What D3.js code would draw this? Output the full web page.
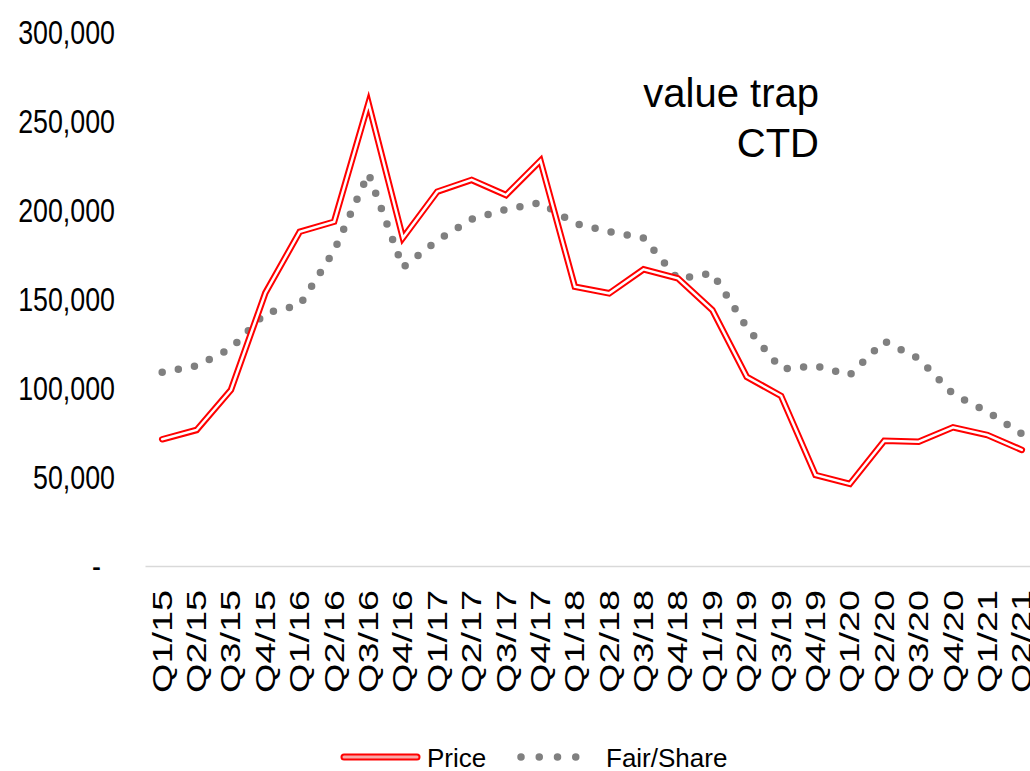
<!DOCTYPE html>
<html>
<head>
<meta charset="utf-8">
<script src="https://cdn.jsdelivr.net/npm/d3@7/dist/d3.min.js"></script>
<style>
  html, body { margin: 0; padding: 0; background: #fff; }
  svg { display: block; font-family: "Liberation Sans", Arial, sans-serif; }
</style>
</head>
<body>
<svg id="chart" width="1030" height="771"></svg>
<script>
// Quarterly categories
const quarters = [
  "Q1/15","Q2/15","Q3/15","Q4/15","Q1/16","Q2/16","Q3/16","Q4/16",
  "Q1/17","Q2/17","Q3/17","Q4/17","Q1/18","Q2/18","Q3/18","Q4/18",
  "Q1/19","Q2/19","Q3/19","Q4/19","Q1/20","Q2/20","Q3/20","Q4/20",
  "Q1/21","Q2/21"
];

// Share price per quarter
const price = [
  71200, 76400, 98900, 153400, 187800, 193400, 260000, 184300,
  210300, 216900, 208400, 227700, 156900, 153200, 166700, 161600,
  143800, 106300, 95500, 51100, 46100, 70400, 69800, 77900,
  73600, 65200
];

// Fair value per share per quarter
const fairShare = [
  108800, 112400, 122200, 142100, 146600, 177100, 220500, 167700,
  182900, 194900, 200300, 204200, 192500, 187800, 184300, 161200,
  164600, 134100, 110700, 112400, 107300, 126400, 116500, 96600,
  86700, 74200
];

// Y axis ticks
const yTicks = [0, 50000, 100000, 150000, 200000, 250000, 300000];

const seriesNames = ["Price", "Fair/Share"];

const svg = d3.select("#chart");

const plotLeft = 145, plotRight = 1039, plotTop = 32, plotBottom = 566;

const x = d3.scaleBand()
  .domain(quarters)
  .range([plotLeft, plotRight])
  .padding(0);

const cx = d => x(d) + x.bandwidth() / 2;

const y = d3.scaleLinear()
  .domain([0, 300000])
  .range([plotBottom, plotTop]);

const fmt = d3.format(",");

// Y axis labels (no axis line, no tick marks)
const yAxis = svg.append("g")
  .attr("transform", `translate(${plotLeft},0)`)
  .call(d3.axisLeft(y).tickValues(yTicks).tickSize(0).tickPadding(30)
    .tickFormat(v => v === 0 ? "-" : fmt(v)));
yAxis.select(".domain").remove();
yAxis.selectAll("text")
  .attr("font-size", 26.8)
  .attr("fill", "#000")
  .attr("font-family", "'Liberation Sans', Arial, sans-serif")
  .attr("dy", "0.36em")
  .attr("transform", "scale(1,1.22)")
  .attr("x", v => v === 0 ? -44 : -30);

// X axis with rotated category labels
const xAxis = svg.append("g")
  .attr("transform", `translate(0,${plotBottom})`)
  .call(d3.axisBottom(x).tickSize(0).tickSizeOuter(0));
xAxis.select(".domain")
  .attr("stroke", "#d9d9d9")
  .attr("stroke-width", 1.5);
xAxis.selectAll("text")
  .attr("font-size", 28)
  .attr("fill", "#000")
  .attr("font-family", "'Liberation Sans', Arial, sans-serif")
  .attr("text-anchor", "end")
  .attr("transform", "rotate(-90)")
  .attr("x", -24)
  .attr("y", 0)
  .attr("dy", "0.34em")
  .attr("textLength", 103)
  .attr("lengthAdjust", "spacingAndGlyphs");

const line = d3.line()
  .x((d, i) => cx(quarters[i]))
  .y(d => y(d));

// Fair/Share: round-dot line
svg.append("path")
  .datum(fairShare)
  .attr("d", line)
  .attr("fill", "none")
  .attr("stroke", "#808080")
  .attr("stroke-width", 7.5)
  .attr("stroke-linecap", "round")
  .attr("stroke-linejoin", "round")
  .attr("stroke-dasharray", "0 16.4");

// Price: double line (red outline, white core)
svg.append("path")
  .datum(price)
  .attr("d", line)
  .attr("fill", "none")
  .attr("stroke", "#ff0000")
  .attr("stroke-width", 6.5)
  .attr("stroke-linecap", "round")
  .attr("stroke-linejoin", "miter");
svg.append("path")
  .datum(price)
  .attr("d", line)
  .attr("fill", "none")
  .attr("stroke", "#ffffff")
  .attr("stroke-width", 2.5)
  .attr("stroke-linecap", "round")
  .attr("stroke-linejoin", "miter");

// Annotation
const note = svg.append("text")
  .attr("x", 819)
  .attr("y", 107)
  .attr("text-anchor", "end")
  .attr("font-size", 40)
  .attr("fill", "#000");
note.append("tspan").attr("x", 819).attr("y", 107).text("value trap");
note.append("tspan").attr("x", 819).attr("y", 157).text("CTD");

// Legend
const legY = 757;
const leg = svg.append("g");
leg.append("line")
  .attr("x1", 344).attr("x2", 417).attr("y1", legY).attr("y2", legY)
  .attr("stroke", "#ff0000").attr("stroke-width", 7).attr("stroke-linecap", "round");
leg.append("line")
  .attr("x1", 344).attr("x2", 417).attr("y1", legY).attr("y2", legY)
  .attr("stroke", "#f8a8a8").attr("stroke-width", 3).attr("stroke-linecap", "round");
leg.append("text")
  .attr("x", 427).attr("y", 766.5)
  .attr("font-size", 26)
  .attr("fill", "#000")
  .text(seriesNames[0]);
leg.append("line")
  .attr("x1", 521).attr("x2", 594).attr("y1", legY).attr("y2", legY)
  .attr("stroke", "#808080").attr("stroke-width", 7.5)
  .attr("stroke-linecap", "round").attr("stroke-dasharray", "0 18.25");
leg.append("text")
  .attr("x", 606).attr("y", 766.5)
  .attr("font-size", 26)
  .attr("fill", "#000")
  .text(seriesNames[1]);
</script>
</body>
</html>
